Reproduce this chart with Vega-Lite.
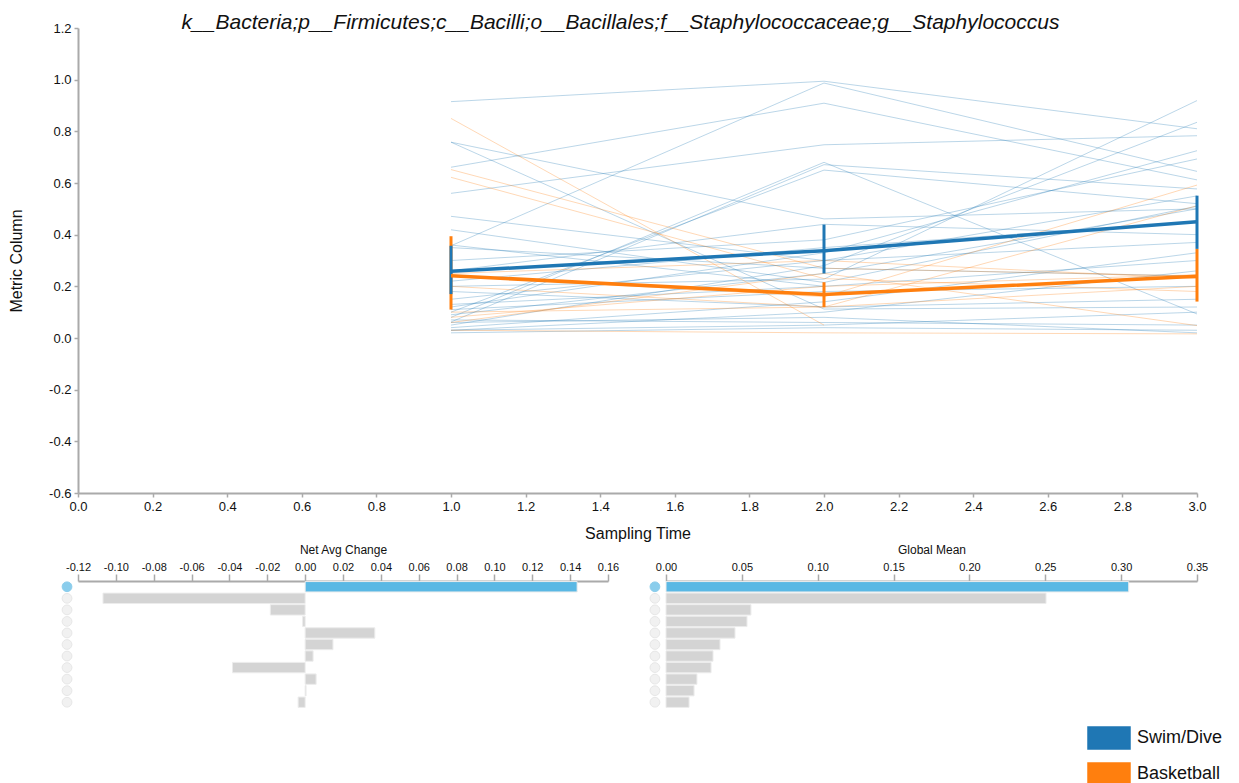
{
  "$schema": "https://vega.github.io/schema/vega-lite/v6.json",
  "autosize": {"type": "pad"},
  "padding": {"left": 8, "top": 12, "right": 0, "bottom": 0},
  "config": {
    "font": "Liberation Sans",
    "view": {"stroke": null},
    "axis": {
      "grid": false,
      "domainColor": "#aaaaaa",
      "tickColor": "#aaaaaa",
      "labelColor": "#111111",
      "titleColor": "#111111",
      "titleFontWeight": "normal",
      "labelOverlap": false,
      "labelFlush": false,
      "labelExpr": "replace(datum.label, '\u2212', '-')"
    }
  },
  "datasets": {
    "subjects": [
      {"subject": "B01", "group": "Swim/Dive", "time": 1, "value": 0.915},
      {"subject": "B01", "group": "Swim/Dive", "time": 2, "value": 0.994},
      {"subject": "B01", "group": "Swim/Dive", "time": 3, "value": 0.810},
      {"subject": "B02", "group": "Swim/Dive", "time": 1, "value": 0.357},
      {"subject": "B02", "group": "Swim/Dive", "time": 2, "value": 0.987},
      {"subject": "B02", "group": "Swim/Dive", "time": 3, "value": 0.645},
      {"subject": "B03", "group": "Swim/Dive", "time": 1, "value": 0.661},
      {"subject": "B03", "group": "Swim/Dive", "time": 2, "value": 0.909},
      {"subject": "B03", "group": "Swim/Dive", "time": 3, "value": 0.612},
      {"subject": "B04", "group": "Swim/Dive", "time": 1, "value": 0.758},
      {"subject": "B04", "group": "Swim/Dive", "time": 2, "value": 0.461},
      {"subject": "B04", "group": "Swim/Dive", "time": 3, "value": 0.500},
      {"subject": "B05", "group": "Swim/Dive", "time": 1, "value": 0.758},
      {"subject": "B05", "group": "Swim/Dive", "time": 2, "value": 0.112},
      {"subject": "B05", "group": "Swim/Dive", "time": 3, "value": 0.120},
      {"subject": "B06", "group": "Swim/Dive", "time": 1, "value": 0.560},
      {"subject": "B06", "group": "Swim/Dive", "time": 2, "value": 0.748},
      {"subject": "B06", "group": "Swim/Dive", "time": 3, "value": 0.783},
      {"subject": "B07", "group": "Swim/Dive", "time": 1, "value": 0.471},
      {"subject": "B07", "group": "Swim/Dive", "time": 2, "value": 0.300},
      {"subject": "B07", "group": "Swim/Dive", "time": 3, "value": 0.370},
      {"subject": "B08", "group": "Swim/Dive", "time": 1, "value": 0.419},
      {"subject": "B08", "group": "Swim/Dive", "time": 2, "value": 0.215},
      {"subject": "B08", "group": "Swim/Dive", "time": 3, "value": 0.510},
      {"subject": "B09", "group": "Swim/Dive", "time": 1, "value": 0.080},
      {"subject": "B09", "group": "Swim/Dive", "time": 2, "value": 0.680},
      {"subject": "B09", "group": "Swim/Dive", "time": 3, "value": 0.093},
      {"subject": "B10", "group": "Swim/Dive", "time": 1, "value": 0.062},
      {"subject": "B10", "group": "Swim/Dive", "time": 2, "value": 0.671},
      {"subject": "B10", "group": "Swim/Dive", "time": 3, "value": 0.577},
      {"subject": "B11", "group": "Swim/Dive", "time": 1, "value": 0.100},
      {"subject": "B11", "group": "Swim/Dive", "time": 2, "value": 0.650},
      {"subject": "B11", "group": "Swim/Dive", "time": 3, "value": 0.520},
      {"subject": "B12", "group": "Swim/Dive", "time": 1, "value": 0.260},
      {"subject": "B12", "group": "Swim/Dive", "time": 2, "value": 0.440},
      {"subject": "B12", "group": "Swim/Dive", "time": 3, "value": 0.400},
      {"subject": "B13", "group": "Swim/Dive", "time": 1, "value": 0.200},
      {"subject": "B13", "group": "Swim/Dive", "time": 2, "value": 0.228},
      {"subject": "B13", "group": "Swim/Dive", "time": 3, "value": 0.919},
      {"subject": "B14", "group": "Swim/Dive", "time": 1, "value": 0.050},
      {"subject": "B14", "group": "Swim/Dive", "time": 2, "value": 0.280},
      {"subject": "B14", "group": "Swim/Dive", "time": 3, "value": 0.835},
      {"subject": "B15", "group": "Swim/Dive", "time": 1, "value": 0.120},
      {"subject": "B15", "group": "Swim/Dive", "time": 2, "value": 0.330},
      {"subject": "B15", "group": "Swim/Dive", "time": 3, "value": 0.725},
      {"subject": "B16", "group": "Swim/Dive", "time": 1, "value": 0.300},
      {"subject": "B16", "group": "Swim/Dive", "time": 2, "value": 0.380},
      {"subject": "B16", "group": "Swim/Dive", "time": 3, "value": 0.693},
      {"subject": "B17", "group": "Swim/Dive", "time": 1, "value": 0.150},
      {"subject": "B17", "group": "Swim/Dive", "time": 2, "value": 0.300},
      {"subject": "B17", "group": "Swim/Dive", "time": 3, "value": 0.550},
      {"subject": "B18", "group": "Swim/Dive", "time": 1, "value": 0.090},
      {"subject": "B18", "group": "Swim/Dive", "time": 2, "value": 0.250},
      {"subject": "B18", "group": "Swim/Dive", "time": 3, "value": 0.500},
      {"subject": "B19", "group": "Swim/Dive", "time": 1, "value": 0.040},
      {"subject": "B19", "group": "Swim/Dive", "time": 2, "value": 0.140},
      {"subject": "B19", "group": "Swim/Dive", "time": 3, "value": 0.330},
      {"subject": "B20", "group": "Swim/Dive", "time": 1, "value": 0.030},
      {"subject": "B20", "group": "Swim/Dive", "time": 2, "value": 0.100},
      {"subject": "B20", "group": "Swim/Dive", "time": 3, "value": 0.260},
      {"subject": "B21", "group": "Swim/Dive", "time": 1, "value": 0.070},
      {"subject": "B21", "group": "Swim/Dive", "time": 2, "value": 0.060},
      {"subject": "B21", "group": "Swim/Dive", "time": 3, "value": 0.050},
      {"subject": "B22", "group": "Swim/Dive", "time": 1, "value": 0.020},
      {"subject": "B22", "group": "Swim/Dive", "time": 2, "value": 0.040},
      {"subject": "B22", "group": "Swim/Dive", "time": 3, "value": 0.030},
      {"subject": "B23", "group": "Swim/Dive", "time": 1, "value": 0.110},
      {"subject": "B23", "group": "Swim/Dive", "time": 2, "value": 0.180},
      {"subject": "B23", "group": "Swim/Dive", "time": 3, "value": 0.200},
      {"subject": "B24", "group": "Swim/Dive", "time": 1, "value": 0.350},
      {"subject": "B24", "group": "Swim/Dive", "time": 2, "value": 0.270},
      {"subject": "B24", "group": "Swim/Dive", "time": 3, "value": 0.240},
      {"subject": "B25", "group": "Swim/Dive", "time": 1, "value": 0.180},
      {"subject": "B25", "group": "Swim/Dive", "time": 2, "value": 0.120},
      {"subject": "B25", "group": "Swim/Dive", "time": 3, "value": 0.150},
      {"subject": "B26", "group": "Swim/Dive", "time": 1, "value": 0.060},
      {"subject": "B26", "group": "Swim/Dive", "time": 2, "value": 0.080},
      {"subject": "B26", "group": "Swim/Dive", "time": 3, "value": 0.020},
      {"subject": "B27", "group": "Swim/Dive", "time": 1, "value": 0.130},
      {"subject": "B27", "group": "Swim/Dive", "time": 2, "value": 0.200},
      {"subject": "B28", "group": "Swim/Dive", "time": 1, "value": 0.220},
      {"subject": "B28", "group": "Swim/Dive", "time": 2, "value": 0.350},
      {"subject": "B28", "group": "Swim/Dive", "time": 3, "value": 0.450},
      {"subject": "B29", "group": "Swim/Dive", "time": 1, "value": 0.030},
      {"subject": "B29", "group": "Swim/Dive", "time": 2, "value": 0.050},
      {"subject": "B29", "group": "Swim/Dive", "time": 3, "value": 0.100},
      {"subject": "B30", "group": "Swim/Dive", "time": 1, "value": 0.360},
      {"subject": "B30", "group": "Swim/Dive", "time": 2, "value": 0.200},
      {"subject": "B30", "group": "Swim/Dive", "time": 3, "value": 0.300},
      {"subject": "O01", "group": "Basketball", "time": 1, "value": 0.850},
      {"subject": "O01", "group": "Basketball", "time": 2, "value": 0.050},
      {"subject": "O02", "group": "Basketball", "time": 1, "value": 0.652},
      {"subject": "O02", "group": "Basketball", "time": 2, "value": 0.270},
      {"subject": "O02", "group": "Basketball", "time": 3, "value": 0.240},
      {"subject": "O03", "group": "Basketball", "time": 1, "value": 0.622},
      {"subject": "O03", "group": "Basketball", "time": 2, "value": 0.230},
      {"subject": "O03", "group": "Basketball", "time": 3, "value": 0.180},
      {"subject": "O04", "group": "Basketball", "time": 1, "value": 0.240},
      {"subject": "O04", "group": "Basketball", "time": 2, "value": 0.160},
      {"subject": "O04", "group": "Basketball", "time": 3, "value": 0.592},
      {"subject": "O05", "group": "Basketball", "time": 1, "value": 0.200},
      {"subject": "O05", "group": "Basketball", "time": 2, "value": 0.120},
      {"subject": "O05", "group": "Basketball", "time": 3, "value": 0.512},
      {"subject": "O06", "group": "Basketball", "time": 1, "value": 0.080},
      {"subject": "O06", "group": "Basketball", "time": 2, "value": 0.200},
      {"subject": "O06", "group": "Basketball", "time": 3, "value": 0.245},
      {"subject": "O07", "group": "Basketball", "time": 1, "value": 0.060},
      {"subject": "O07", "group": "Basketball", "time": 2, "value": 0.250},
      {"subject": "O07", "group": "Basketball", "time": 3, "value": 0.048},
      {"subject": "O08", "group": "Basketball", "time": 1, "value": 0.030},
      {"subject": "O08", "group": "Basketball", "time": 2, "value": 0.020},
      {"subject": "O08", "group": "Basketball", "time": 3, "value": 0.016},
      {"subject": "O09", "group": "Basketball", "time": 1, "value": 0.250},
      {"subject": "O09", "group": "Basketball", "time": 2, "value": 0.300},
      {"subject": "O09", "group": "Basketball", "time": 3, "value": 0.230},
      {"subject": "O10", "group": "Basketball", "time": 1, "value": 0.100},
      {"subject": "O10", "group": "Basketball", "time": 2, "value": 0.120},
      {"subject": "O10", "group": "Basketball", "time": 3, "value": 0.200}
    ],
    "summary": [
      {"group": "Basketball", "time": 1, "mean": 0.241, "lo": 0.110, "hi": 0.394},
      {"group": "Basketball", "time": 2, "mean": 0.168, "lo": 0.120, "hi": 0.216},
      {"group": "Basketball", "time": 3, "mean": 0.239, "lo": 0.141, "hi": 0.345},
      {"group": "Swim/Dive", "time": 1, "mean": 0.258, "lo": 0.170, "hi": 0.357},
      {"group": "Swim/Dive", "time": 2, "mean": 0.338, "lo": 0.250, "hi": 0.439},
      {"group": "Swim/Dive", "time": 3, "mean": 0.450, "lo": 0.345, "hi": 0.551}
    ],
    "features": [
      {"rank": 0, "feature": "g__Staphylococcus", "netAvgChange": 0.1437, "globalMean": 0.3050},
      {"rank": 1, "feature": "feature_02", "netAvgChange": -0.1068, "globalMean": 0.2505},
      {"rank": 2, "feature": "feature_03", "netAvgChange": -0.0184, "globalMean": 0.0560},
      {"rank": 3, "feature": "feature_04", "netAvgChange": -0.0013, "globalMean": 0.0534},
      {"rank": 4, "feature": "feature_05", "netAvgChange": 0.0368, "globalMean": 0.0455},
      {"rank": 5, "feature": "feature_06", "netAvgChange": 0.0147, "globalMean": 0.0356},
      {"rank": 6, "feature": "feature_07", "netAvgChange": 0.0042, "globalMean": 0.0310},
      {"rank": 7, "feature": "feature_08", "netAvgChange": -0.0384, "globalMean": 0.0297},
      {"rank": 8, "feature": "feature_09", "netAvgChange": 0.0058, "globalMean": 0.0204},
      {"rank": 9, "feature": "feature_10", "netAvgChange": 0.0005, "globalMean": 0.0185},
      {"rank": 10, "feature": "feature_11", "netAvgChange": -0.0037, "globalMean": 0.0152}
    ]
  },
  "bounds": "flush",
  "spacing": 88,
  "vconcat": [
    {
      "width": 1119,
      "height": 465,
      "title": {
        "text": "k__Bacteria;p__Firmicutes;c__Bacilli;o__Bacillales;f__Staphylococcaceae;g__Staphylococcus",
        "fontSize": 21,
        "fontStyle": "italic",
        "fontWeight": "normal",
        "color": "#111111",
        "anchor": "middle",
        "dx": -17,
        "offset": -11
      },
      "encoding": {
        "x": {
          "field": "time",
          "type": "quantitative",
          "title": "Sampling Time",
          "scale": {"domain": [0, 3], "nice": false},
          "axis": {
            "values": [0, 0.2, 0.4, 0.6, 0.8, 1, 1.2, 1.4, 1.6, 1.8, 2, 2.2, 2.4, 2.6, 2.8, 3],
            "tickCount": 40,
            "format": ".1f",
            "labelFontSize": 13,
            "titleFontSize": 16,
            "tickSize": 4,
            "tickWidth": 1.5,
            "domainWidth": 2,
            "labelPadding": 3,
            "labelFlush": false,
            "labelOverlap": false,
            "titlePadding": 12
          }
        }
      },
      "layer": [
        {
          "data": {"name": "subjects"},
          "mark": {"type": "line", "strokeWidth": 1, "opacity": 0.3},
          "encoding": {
            "y": {
              "field": "value",
              "type": "quantitative",
              "title": "Metric Column",
              "scale": {"domain": [-0.6, 1.2], "nice": false},
              "axis": {
                "values": [-0.6, -0.4, -0.2, 0, 0.2, 0.4, 0.6, 0.8, 1.0, 1.2],
                "tickCount": 40,
                "format": ".1f",
                "labelFontSize": 13,
                "titleFontSize": 16,
                "tickSize": 4,
                "tickWidth": 1.5,
                "domainWidth": 2,
                "labelPadding": 3,
                "labelFlush": false,
                "labelOverlap": false,
                "titlePadding": 24
              }
            },
            "detail": {"field": "subject"},
            "color": {
              "field": "group",
              "type": "nominal",
              "scale": {"domain": ["Swim/Dive", "Basketball"], "range": ["#1f77b4", "#ff7f0e"]},
              "legend": {
                "title": null,
                "orient": "none",
                "legendX": 1009,
                "legendY": 688,
                "padding": 0,
                "symbolType": "M-1,-0.52H1V0.52H-1Z",
                "symbolSize": 1764,
                "symbolStrokeWidth": 1.5,
                "symbolOpacity": 1,
                "labelFontSize": 18,
                "labelColor": "#111111",
                "labelOffset": 6,
                "rowPadding": -11,
                "encode": {
                  "symbols": {
                    "update": {
                      "fill": {"scale": "color", "field": "value"},
                      "fillOpacity": {"value": 1},
                      "stroke": {"value": "#333333"},
                      "strokeOpacity": {"value": 1},
                      "opacity": {"value": 1}
                    }
                  }
                }
              }
            }
          }
        },
        {
          "data": {"name": "summary"},
          "mark": {"type": "rule", "strokeWidth": 3},
          "encoding": {
            "y": {"field": "lo", "type": "quantitative"},
            "y2": {"field": "hi"},
            "color": {"field": "group", "type": "nominal"}
          }
        },
        {
          "data": {"name": "summary"},
          "mark": {"type": "line", "strokeWidth": 3.5},
          "encoding": {
            "y": {"field": "mean", "type": "quantitative"},
            "color": {"field": "group", "type": "nominal"}
          }
        }
      ]
    },
    {
      "bounds": "flush",
      "spacing": 58,
      "hconcat": [
        {
          "width": 530,
          "height": 127,
          "data": {"name": "features"},
          "encoding": {
            "y": {
              "field": "rank",
              "type": "ordinal",
              "axis": null,
              "scale": {"paddingInner": 0.1, "paddingOuter": 0.05}
            }
          },
          "layer": [
            {
              "mark": {"type": "bar", "stroke": "#ececec", "strokeWidth": 1},
              "encoding": {
                "x": {
                  "field": "netAvgChange",
                  "type": "quantitative",
                  "title": "Net Avg Change",
                  "scale": {"domain": [-0.12, 0.16], "nice": false},
                  "axis": {
                    "orient": "top",
                    "values": [-0.12, -0.1, -0.08, -0.06, -0.04, -0.02, 0, 0.02, 0.04, 0.06, 0.08, 0.1, 0.12, 0.14, 0.16],
                    "tickCount": 40,
                    "format": ".2f",
                    "labelFontSize": 11,
                    "titleFontSize": 12,
                    "tickSize": 7,
                    "tickWidth": 1.5,
                    "domainWidth": 2,
                    "labelPadding": 2,
                    "labelFlush": false,
                    "labelOverlap": false,
                    "titlePadding": 5
                  }
                },
                "color": {
                  "condition": {"test": "datum.rank === 0", "value": "#5ab8e4"},
                  "value": "#d4d4d4"
                }
              }
            },
            {
              "mark": {"type": "point", "filled": true, "size": 95, "strokeWidth": 1},
              "encoding": {
                "x": {"datum": -0.1258, "type": "quantitative"},
                "color": {
                  "condition": {"test": "datum.rank === 0", "value": "#5ab8e4"},
                  "value": "#ececec"
                },
                "stroke": {
                  "condition": {"test": "datum.rank === 0", "value": "#5ab8e4"},
                  "value": "#dddddd"
                }
              }
            }
          ]
        },
        {
          "width": 531,
          "height": 127,
          "data": {"name": "features"},
          "encoding": {
            "y": {
              "field": "rank",
              "type": "ordinal",
              "axis": null,
              "scale": {"paddingInner": 0.1, "paddingOuter": 0.05}
            }
          },
          "layer": [
            {
              "mark": {"type": "bar", "stroke": "#ececec", "strokeWidth": 1},
              "encoding": {
                "x": {
                  "field": "globalMean",
                  "type": "quantitative",
                  "title": "Global Mean",
                  "scale": {"domain": [0, 0.35], "nice": false},
                  "axis": {
                    "orient": "top",
                    "values": [0, 0.05, 0.1, 0.15, 0.2, 0.25, 0.3, 0.35],
                    "tickCount": 40,
                    "format": ".2f",
                    "labelFontSize": 11,
                    "titleFontSize": 12,
                    "tickSize": 7,
                    "tickWidth": 1.5,
                    "domainWidth": 2,
                    "labelPadding": 2,
                    "labelFlush": false,
                    "labelOverlap": false,
                    "titlePadding": 5
                  }
                },
                "color": {
                  "condition": {"test": "datum.rank === 0", "value": "#5ab8e4"},
                  "value": "#d4d4d4"
                }
              }
            },
            {
              "mark": {"type": "point", "filled": true, "size": 95, "strokeWidth": 1},
              "encoding": {
                "x": {"datum": -0.0073, "type": "quantitative"},
                "color": {
                  "condition": {"test": "datum.rank === 0", "value": "#5ab8e4"},
                  "value": "#ececec"
                },
                "stroke": {
                  "condition": {"test": "datum.rank === 0", "value": "#5ab8e4"},
                  "value": "#dddddd"
                }
              }
            }
          ]
        }
      ]
    }
  ]
}
